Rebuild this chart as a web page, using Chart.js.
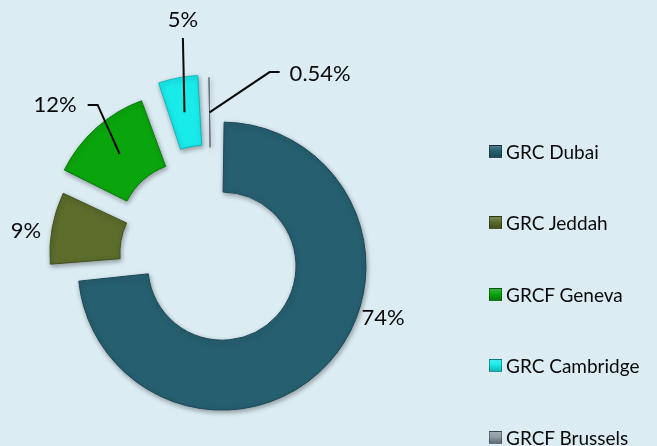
<!DOCTYPE html>
<html>
<head>
<meta charset="utf-8">
<script src="https://cdn.jsdelivr.net/npm/chart.js@4.4.0/dist/chart.umd.min.js"></script>
<style>
    html, body { margin: 0; padding: 0; background: #dbecf3; }
    #wrap { position: relative; width: 657px; height: 446px; background: #dbecf3; overflow: hidden; }
    #chart { position: absolute; left: 0; top: 0; }
    #legend { position: absolute; left: 489px; top: 141px; font-family: Lato, sans-serif; font-size: 19px; color: #0a0a0a; }
    .lg-item { display: flex; align-items: center; height: 20px; margin-bottom: 51.5px; white-space: nowrap; }
    .lg-box { width: 13px; height: 13px; margin-right: 4px; box-sizing: border-box; border: 1px solid rgba(0,0,0,0.35); }
</style>
</head>
<body>
<div id="wrap">
    <canvas id="chart" width="657" height="446"></canvas>
    <div id="legend"></div>
</div>
<script>
// 数据
const campusLabels = ['GRC Dubai', 'GRC Jeddah', 'GRCF Geneva', 'GRC Cambridge', 'GRCF Brussels'];
const sharePercent = [73.6, 8.6, 12.4, 4.9, 0.54];
const shareLabels = ['74%', '9%', '12%', '5%', '0.54%'];

// 样式
const sliceColors = ['#265f70', '#5b6c2b', '#0aa50c', '#19ebeb', '#8e9ca8'];
const sliceBorders = ['#1c4856', '#434f1e', '#077a09', '#10b8b8', '#5f6b75'];
const sliceOffsets = [54, 86, 132, 122, 100];

// 标签位置 (角度, 半径) 与引导线
const labelPlacement = [
    { angle: 19.6, radius: 181.6, leader: null },
    { angle: 188, radius: 187.8, leader: null },
    { angle: -135.9, radius: 218.5, leader: 'right' },
    { angle: -97, radius: 238.8, leader: 'below' },
    { angle: -59.4, radius: 212.5, leader: 'left' }
];

// 阴影
const shadowPlugin = {
    id: 'sliceShadow',
    beforeDatasetsDraw(chart) {
        const ctx = chart.ctx;
        ctx.save();
        ctx.shadowColor = 'rgba(0, 0, 0, 0.35)';
        ctx.shadowBlur = 5;
        ctx.shadowOffsetX = 1;
        ctx.shadowOffsetY = 2;
    },
    afterDatasetsDraw(chart) {
        chart.ctx.restore();
    }
};

// 百分比标签
const sliceLabelPlugin = {
    id: 'sliceLabels',
    afterDatasetsDraw(chart) {
        const ctx = chart.ctx;
        const meta = chart.getDatasetMeta(0);
        ctx.save();
        ctx.font = '22px Lato';
        ctx.fillStyle = '#0a0a0a';
        ctx.strokeStyle = '#0a0a0a';
        ctx.lineWidth = 2;
        ctx.textAlign = 'center';
        ctx.textBaseline = 'middle';
        meta.data.forEach((arc, i) => {
            const p = arc.getProps(['x', 'y', 'startAngle', 'endAngle', 'innerRadius', 'outerRadius', 'circumference']);
            const place = labelPlacement[i];
            const a = place.angle * Math.PI / 180;
            const tx = p.x + Math.cos(a) * place.radius;
            const ty = p.y + Math.sin(a) * place.radius;
            ctx.fillText(shareLabels[i], tx, ty);
            if (!place.leader) return;

            // 扇区中心点 (与 Chart.js 偏移绘制一致)
            const off = (arc.options.offset || 0) / 4;
            const fix = 1 - Math.sin(Math.min(Math.PI, p.circumference));
            const mid = (p.startAngle + p.endAngle) / 2;
            const ar = off + (p.innerRadius + p.outerRadius) / 2 + off * fix;
            const ax = p.x + Math.cos(mid) * ar;
            const ay = p.y + Math.sin(mid) * ar;
            const w = ctx.measureText(shareLabels[i]).width;

            ctx.beginPath();
            if (place.leader === 'right') {
                ctx.moveTo(tx + w / 2 + 11, ty);
                ctx.lineTo(tx + w / 2 + 21, ty);
            } else if (place.leader === 'left') {
                ctx.moveTo(tx - w / 2 - 10, ty - 2);
                ctx.lineTo(tx - w / 2 - 20, ty - 2);
            } else {
                ctx.moveTo(tx, ty + 18);
            }
            ctx.lineTo(ax, ay);
            ctx.stroke();
        });
        ctx.restore();
    }
};

new Chart(document.getElementById('chart'), {
    type: 'doughnut',
    data: {
        labels: campusLabels,
        datasets: [{
            data: sharePercent,
            backgroundColor: sliceColors,
            borderColor: sliceBorders,
            borderWidth: 1,
            offset: sliceOffsets,
            clip: false
        }]
    },
    options: {
        responsive: false,
        animation: false,
        radius: 130.5,
        cutout: '46.4%',
        layout: { padding: { left: 0, right: 233, top: 68, bottom: 0 } },
        plugins: {
            legend: { display: false },
            tooltip: { enabled: false }
        }
    },
    plugins: [shadowPlugin, sliceLabelPlugin]
});

// 图例
const legendDiv = document.getElementById('legend');
legendDiv.innerHTML = campusLabels.map((name, i) => `
    <div class="lg-item">
        <span class="lg-box" style="background: linear-gradient(to bottom, ${sliceColors[i]}cc, ${sliceColors[i]} 45%, ${sliceBorders[i]});"></span>
        <span>${name}</span>
    </div>
`).join('');
</script>
</body>
</html>
